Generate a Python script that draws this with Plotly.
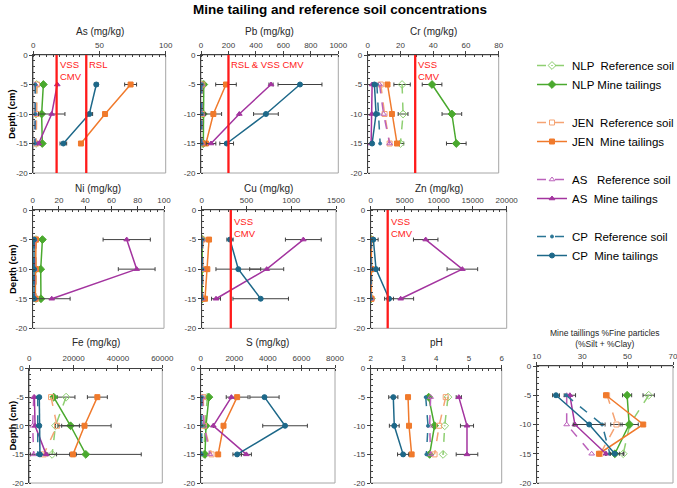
import plotly.graph_objects as go

W, H = 677, 488
FONT = "Liberation Sans, Arial, sans-serif"

DEPTH = [-5, -10, -15]
DEPTH_TICKS = [0, -5, -10, -15, -20]
DEPTH_TEXT = ["0", "-5", "-10", "-15", "-20"]

SERIES = ["NLP_ref", "NLP_mt", "JEN_ref", "JEN_mt", "AS_ref", "AS_mt", "CP_ref", "CP_mt"]
NAMES = {
    "NLP_ref": "NLP  Reference soil", "NLP_mt": "NLP Mine tailings",
    "JEN_ref": "JEN  Reference soil", "JEN_mt": "JEN  Mine tailings",
    "AS_ref": "AS   Reference soil", "AS_mt": "AS  Mine tailings",
    "CP_ref": "CP  Reference soil", "CP_mt": "CP  Mine tailings",
}

# ---- As (mg/kg) ----
AS_VAL = {"NLP_ref": [2.5, 2.0, 2.0], "NLP_mt": [7.6, 6.3, 6.8],
          "JEN_ref": [2.8, 2.4, 2.2], "JEN_mt": [73.5, 54.2, 36.0],
          "AS_ref": [1.5, 1.5, 1.5], "AS_mt": [18.1, 13.9, 4.0],
          "CP_ref": [1.5, 1.5, 1.2], "CP_mt": [47.6, 42.3, 22.7]}
AS_ERR = {"JEN_mt": [4.5, 0, 0], "AS_mt": [0, 10, 1], "CP_mt": [1.5, 2.5, 2.5]}
AS_LIMITS = [(17.6, "VSS<br>CMV"), (40.0, "RSL")]

# ---- Pb (mg/kg) ----
PB_VAL = {"NLP_ref": [8, 8, 8], "NLP_mt": [20, 17, 17],
          "JEN_ref": [10, 8, 8], "JEN_mt": [182, 90, 36],
          "AS_ref": [6, 6, 6], "AS_mt": [510, 279, 73],
          "CP_ref": [5, 5, 5], "CP_mt": [721, 473, 187]}
PB_ERR = {"JEN_mt": [75, 60, 0], "AS_mt": [15, 0, 35], "CP_mt": [160, 90, 50]}
PB_LIMITS = [(200, "RSL & VSS CMV")]

# ---- Cr (mg/kg) ----
CR_VAL = {"NLP_ref": [21.0, 21.6, 20.0], "NLP_mt": [39.3, 51.4, 54.1],
          "JEN_ref": [8.0, 10.3, 13.4], "JEN_mt": [12.1, 14.8, 17.9],
          "AS_ref": [7.2, 9.7, 13.4], "AS_mt": [2.7, 2.5, 2.1],
          "CP_ref": [5.6, 6.6, 7.6], "CP_mt": [4.1, 5.1, 2.7]}
CR_ERR = {"NLP_ref": [5, 3, 2], "NLP_mt": [6, 6, 6], "JEN_mt": [0, 1, 1]}
CR_LIMITS = [(29, "VSS<br>CMV")]

# ---- Ni (mg/kg) ----
NI_VAL = {"NLP_ref": [2.5, 2.5, 2.5], "NLP_mt": [7.4, 6.1, 6.3],
          "JEN_ref": [2.5, 2.5, 2.5], "JEN_mt": [2.5, 2.5, 2.0],
          "AS_ref": [1.5, 1.5, 1.5], "AS_mt": [71.6, 79.2, 14.5],
          "CP_ref": [0.8, 0.8, 0.8], "CP_mt": [1.0, 1.0, 1.0]}
NI_ERR = {"AS_mt": [18, 14, 14]}
NI_LIMITS = []

# ---- Cu (mg/kg) ----
CU_VAL = {"NLP_ref": [10, 10, 10], "NLP_mt": [5, 5, 5],
          "JEN_ref": [12, 12, 12], "JEN_mt": [82, 63, 37],
          "AS_ref": [8, 8, 8], "AS_mt": [1135, 726, 160],
          "CP_ref": [6, 6, 6], "CP_mt": [316, 409, 659]}
CU_ERR = {"AS_mt": [200, 190, 50], "CP_mt": [35, 250, 310]}
CU_LIMITS = [(325, "VSS<br>CMV")]

# ---- Zn (mg/kg) ----
ZN_VAL = {"NLP_ref": [100, 100, 100], "NLP_mt": [50, 50, 50],
          "JEN_ref": [120, 120, 120], "JEN_mt": [100, 100, 100],
          "AS_ref": [80, 80, 80], "AS_mt": [8088, 13480, 4410],
          "CP_ref": [60, 60, 60], "CP_mt": [392, 784, 2700]}
ZN_ERR = {"AS_mt": [1800, 2250, 1900], "CP_mt": [700, 500, 650]}
ZN_LIMITS = [(2500, "VSS<br>CMV")]

# ---- Fe (mg/kg) ----
FE_VAL = {"NLP_ref": [16600, 11800, 10300], "NLP_mt": [11000, 18600, 25500],
          "JEN_ref": [9800, 12500, 6500], "JEN_mt": [30700, 24900, 19700],
          "AS_ref": [2000, 1500, 2000], "AS_mt": [2300, 2600, 7600],
          "CP_ref": [3800, 3800, 3800], "CP_mt": [4500, 4500, 4800]}
FE_ERR = {"NLP_ref": [4000, 0, 2000], "NLP_mt": [0, 4000, 25000],
          "JEN_mt": [4500, 12000, 1500]}
FE_LIMITS = []

# ---- S (mg/kg) ----
S_VAL = {"NLP_ref": [395, 255, 200], "NLP_mt": [490, 315, 255],
         "JEN_ref": [150, 200, 650], "JEN_mt": [2170, 1360, 1040],
         "AS_ref": [100, 200, 550], "AS_mt": [1830, 750, 2720],
         "CP_ref": [60, 60, 60], "CP_mt": [3800, 5025, 2170]}
S_ERR = {"JEN_mt": [650, 0, 0], "AS_mt": [0, 0, 300], "CP_mt": [870, 1330, 250]}
S_LIMITS = []

# ---- pH ----
PH_VAL = {"NLP_ref": [4.36, 4.26, 4.21], "NLP_mt": [3.77, 3.95, 3.80],
          "JEN_ref": [4.29, 4.09, 3.95], "JEN_mt": [3.14, 3.17, 3.25],
          "AS_ref": [3.83, 3.80, 3.83], "AS_mt": [4.69, 4.94, 4.94],
          "CP_ref": [3.68, 3.75, 3.70], "CP_mt": [2.69, 2.72, 2.99]}
PH_ERR = {"AS_mt": [0.08, 0.2, 0.33], "CP_mt": [0.14, 0.15, 0.17]}
PH_LIMITS = []

# ---- Mine tailings % fine particles ----
FINE_VAL = {"NLP_ref": [59.3, 51.0, 48.1], "NLP_mt": [49.8, 50.7, 44.4],
            "JEN_ref": [41.0, 45.1, 38.0], "JEN_mt": [40.5, 56.9, 37.4],
            "AS_ref": [23.2, 23.2, 34.2], "AS_mt": [24.6, 26.8, 40.5],
            "CP_ref": [22.9, 38.8, 42.2], "CP_mt": [18.5, 33.1, 44.4]}
FINE_ERR = {"NLP_ref": [2.5, 0, 0], "NLP_mt": [2, 4, 4], "JEN_ref": [0, 2.5, 0],
            "AS_mt": [2.5, 0, 0], "CP_mt": [1.5, 7, 2]}
FINE_LIMITS = []

STYLE = {
    "NLP_ref": dict(color="#8fcf72", dash="dash", symbol="diamond-open-dot", size=6),
    "NLP_mt": dict(color="#4aa92e", dash="solid", symbol="diamond", size=6),
    "JEN_ref": dict(color="#f5a373", dash="dash", symbol="square-open", size=5),
    "JEN_mt": dict(color="#f07a2c", dash="solid", symbol="square", size=5),
    "AS_ref": dict(color="#bb62bb", dash="dash", symbol="triangle-up-open", size=5),
    "AS_mt": dict(color="#a3349f", dash="solid", symbol="triangle-up", size=5),
    "CP_ref": dict(color="#2a7595", dash="dash", symbol="circle", size=3),
    "CP_mt": dict(color="#1d6889", dash="solid", symbol="circle", size=5),
}

# panel layout: (title, values, errors, limits, range, dtick, minor, x-px span, y-px span, title y px, label y)
PANELS = [
    ("As (mg/kg)", AS_VAL, AS_ERR, AS_LIMITS, [0, 100], 50, 5, (33.3, 165.7), (55, 173), 32, -0.4),
    ("Pb (mg/kg)", PB_VAL, PB_ERR, PB_LIMITS, [0, 1000], 200, 50, (201, 338.3), (55, 173), 32, -0.4),
    ("Cr (mg/kg)", CR_VAL, CR_ERR, CR_LIMITS, [0, 80], 20, 5, (367.7, 498.7), (55, 173), 32, -0.4),
    ("Ni (mg/kg)", NI_VAL, NI_ERR, NI_LIMITS, [0, 100], 20, 5, (32.7, 164), (210, 328.3), 188, -0.7),
    ("Cu (mg/kg)", CU_VAL, CU_ERR, CU_LIMITS, [0, 1500], 500, 100, (201.7, 336), (210, 328.3), 188, -0.7),
    ("Zn (mg/kg)", ZN_VAL, ZN_ERR, ZN_LIMITS, [0, 20000], 5000, 1000, (370.7, 506.7), (210, 328.3), 188, -0.7),
    ("Fe (mg/kg)", FE_VAL, FE_ERR, FE_LIMITS, [0, 60000], 20000, 5000, (29.3, 162.3), (368.5, 483), 342, -0.7),
    ("S (mg/kg)", S_VAL, S_ERR, S_LIMITS, [0, 8000], 2000, 500, (200.7, 335), (368.5, 483), 342, -0.7),
    ("pH", PH_VAL, PH_ERR, PH_LIMITS, [2, 6], 1, 0.2, (370.7, 501.7), (368.5, 483), 342, -0.7),
    ("Mine taillings %Fine particles<br>(%Silt + %Clay)", FINE_VAL, FINE_ERR, FINE_LIMITS,
     [10, 70], 20, 5, (536.7, 673), (366, 483), 338, -0.7),
]

fig = go.Figure()
layout = dict(
    width=W, height=H, margin=dict(l=0, r=0, t=0, b=0, autoexpand=False),
    paper_bgcolor="white", plot_bgcolor="white",
    font=dict(family=FONT, size=8, color="#262626"),
    showlegend=True,
    legend=dict(x=532 / W, y=1 - 51 / H, xanchor="left", yanchor="top",
                font=dict(size=11.5, color="#000000"), traceorder="grouped",
                tracegroupgap=19, bgcolor="rgba(0,0,0,0)", itemwidth=30),
)
annotations = []
shapes = []

for i, (title, vals, errs, limits, rng, dtick, minor, xs, ys, ty, ly) in enumerate(PANELS):
    n = "" if i == 0 else str(i + 1)
    xa, ya = "x" + n, "y" + n
    layout["xaxis" + n] = dict(
        domain=[xs[0] / W, xs[1] / W], range=rng, anchor=ya, side="top",
        showline=True, linecolor="#404040", linewidth=1, showgrid=False, zeroline=False,
        ticks="outside", ticklen=3, tickcolor="#404040", dtick=dtick, tick0=rng[0],
        tickformat="d", ticklabeloverflow="allow",
        tickfont=dict(size=8, color="#404040"),
        minor=dict(ticks="inside", ticklen=2, dtick=minor, tickcolor="#404040", showgrid=False),
        fixedrange=True,
    )
    layout["yaxis" + n] = dict(
        domain=[1 - ys[1] / H, 1 - ys[0] / H], range=[-20, 0], anchor=xa,
        showline=True, linecolor="#404040", linewidth=1, showgrid=False, zeroline=False,
        ticks="outside", ticklen=3, tickcolor="#404040", ticklabeloverflow="allow",
        tickvals=DEPTH_TICKS, ticktext=DEPTH_TEXT, tickfont=dict(size=8, color="#404040"),
        minor=dict(ticks="inside", ticklen=2, dtick=1, tickcolor="#404040", showgrid=False),
        fixedrange=True,
    )
    shapes.append(dict(type="rect", xref=xa + " domain", yref=ya + " domain", x0=0, x1=1, y0=0, y1=1,
                       line=dict(color="#a6a6a6", width=1), layer="below"))
    annotations.append(dict(text=title, xref="paper", yref="paper",
                            x=(xs[0] + xs[1]) / 2 / W, y=1 - ty / H, showarrow=False,
                            xanchor="center", yanchor="middle",
                            font=dict(size=10 if i < 9 else 8.5, color="#262626")))
    for key in SERIES:
        st = STYLE[key]
        err = errs.get(key)
        fig.add_trace(go.Scatter(
            x=vals[key], y=DEPTH, xaxis=xa, yaxis=ya, mode="lines+markers",
            name=NAMES[key], legendgroup=key.split("_")[0], showlegend=(i == 0),
            line=dict(color=st["color"], width=1.5, dash=st["dash"]),
            marker=dict(symbol=st["symbol"], size=st["size"], color=st["color"],
                        line=dict(color=st["color"], width=1)),
            error_x=dict(type="data", array=err, visible=err is not None,
                         color="#404040", thickness=1, width=2),
        ))
    for val, lab in limits:
        shapes.append(dict(type="line", xref=xa, yref=ya + " domain", x0=val, x1=val, y0=0, y1=1,
                           line=dict(color="#ff1a1a", width=2.3), layer="above"))
        annotations.append(dict(text=lab, xref=xa, yref=ya, x=val, y=ly, showarrow=False,
                                xanchor="left", yanchor="top", align="left", xshift=1,
                                font=dict(size=9.5, color="#ff1a1a")))

# y-axis labels for left column
for yc in [(55 + 173) / 2, (210 + 328) / 2, (368 + 483) / 2]:
    annotations.append(dict(text="<b>Depth (cm)</b>", xref="paper", yref="paper", x=12 / W, y=1 - yc / H,
                            textangle=-90, showarrow=False, xanchor="center", yanchor="middle",
                            font=dict(size=9.5, color="#000000")))

annotations.append(dict(text="<b>Mine tailing and reference soil concentrations</b>", xref="paper",
                        yref="paper", x=340 / W, y=1, showarrow=False,
                        xanchor="center", yanchor="top", font=dict(size=13.5, color="#000000")))

layout["annotations"] = annotations
layout["shapes"] = shapes
fig.update_layout(**layout)
fig.write_html("out.html")
